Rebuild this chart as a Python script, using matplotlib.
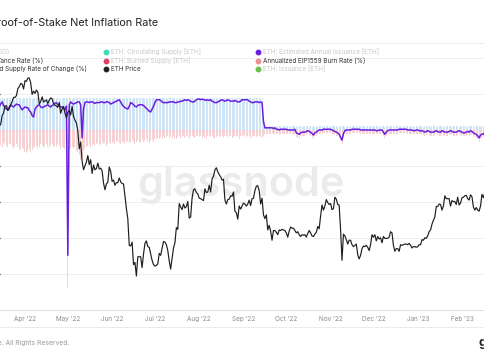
import matplotlib
matplotlib.use("Agg")
import matplotlib.pyplot as plt
import matplotlib.dates as mdates
from matplotlib.lines import Line2D
from matplotlib.ticker import NullLocator
import pandas as pd

plt.rcParams['font.family'] = ['Inter', 'DejaVu Sans']

# ETH price, daily close (USD), 2022-03-14 .. 2023-02-17
eth_price = [
    2590, 2620, 2770, 2815, 2945, 2950, 2860, 2895, 2970, 3030, 3110, 3110, 3145, 3290, 3330, 3400, 3385, 3280,
    3460, 3445, 3520, 3520, 3410, 3170, 3235, 3190, 3260, 3210, 2980, 3030, 3120, 3020, 3040, 3060, 2990, 3060,
    3100, 3080, 2990, 2960, 2940, 2920, 3010, 2810, 2890, 2935, 2815, 2730,
    2830, 2860, 2780, 2940, 2750, 2690, 2640, 2520, 2240, 2340, 2070, 1960, 2010, 2060, 2145, 2025, 2090, 1915,
    2020, 1960, 1975, 2045, 1970, 1980, 1945, 1800, 1725, 1790, 1810, 1995, 1940,
    1820, 1835, 1775, 1805, 1805, 1860, 1815, 1795, 1790, 1660, 1530, 1435, 1210, 1205, 1235, 1070, 1085, 995,
    1125, 1125, 1125, 1050, 1145, 1225, 1245, 1200, 1195, 1145, 1100, 1070,
    1060, 1065, 1075, 1150, 1135, 1185, 1240, 1235, 1215, 1170, 1095, 1040, 1110, 1190, 1230, 1355, 1340, 1580,
    1545, 1520, 1575, 1535, 1550, 1600, 1440, 1450, 1635, 1725, 1735, 1695, 1680,
    1635, 1630, 1620, 1610, 1735, 1695, 1700, 1775, 1700, 1850, 1880, 1960, 1985, 1935, 1900, 1875, 1835, 1845,
    1615, 1575, 1620, 1625, 1660, 1655, 1700, 1505, 1490, 1430, 1555, 1525, 1555,
    1585, 1575, 1555, 1575, 1615, 1560, 1630, 1635, 1715, 1765, 1770, 1715, 1575, 1635, 1470, 1435, 1470, 1335,
    1375, 1325, 1250, 1330, 1330, 1315, 1295, 1335, 1330, 1340, 1335, 1330,
    1310, 1275, 1325, 1360, 1350, 1350, 1330, 1310, 1320, 1295, 1280, 1295, 1290, 1295, 1275, 1305, 1330, 1310,
    1285, 1280, 1300, 1315, 1365, 1345, 1460, 1565, 1515, 1555, 1620, 1590, 1570,
    1580, 1520, 1530, 1645, 1625, 1570, 1565, 1335, 1100, 1300, 1285, 1255, 1220, 1250, 1250, 1215, 1200, 1210,
    1220, 1140, 1110, 1135, 1185, 1205, 1200, 1210, 1195, 1170, 1215, 1295,
    1275, 1295, 1245, 1280, 1260, 1270, 1230, 1280, 1265, 1265, 1265, 1275, 1320, 1310, 1210, 1165, 1185, 1185,
    1165, 1215, 1210, 1215, 1220, 1220, 1215, 1225, 1210, 1190, 1200, 1200, 1195,
    1200, 1215, 1215, 1255, 1250, 1270, 1265, 1285, 1320, 1335, 1385, 1420, 1450, 1550, 1550, 1575, 1570, 1515,
    1555, 1660, 1630, 1630, 1630, 1555, 1610, 1600, 1600, 1570, 1645, 1565, 1585,
    1640, 1645, 1660, 1665, 1630, 1615, 1670, 1650, 1545, 1515, 1540, 1515, 1505, 1555, 1675, 1640, 1695,
]

# Annualized supply rate of change (%), same days
supply_change = [
    3.2, 3.6, 3.9, 3.4, 3.1, 2.9, 2.8, 3.2, 3.5, 3.3,
    3.2, 3.4, 3.6, 3.5, 3.5, 3.1, 2.8, 3.0, 3.2, 3.1,
    3.1, 2.7, 2.5, 2.0, 1.8, 2.9, 3.2, 3.4, 3.5, 3.2,
    3.1, 3.2, 3.3, 3.4, 3.5, 3.3, 3.2, 3.4, 3.5, 3.7,
    3.8, 3.5, 3.3, 3.2, 3.2, 3.0, 2.8, 3.3, -17.4, 3.5,
    3.9, 3.7, 3.6, 3.7, 3.8, 3.9, 3.9, 3.5, -1.1, 2.9,
    3.8, 3.9, 3.9, 3.8, 3.9, 3.9, 3.8, 3.7, 3.8, 3.8,
    3.8, 3.9, 3.9, 3.8, 3.8, 3.9, 3.9, 3.8, 3.6, 3.7,
    3.8, 3.9, 4.0, 4.1, 4.2, 3.9, 3.5, 3.3, 3.1, 3.0,
    2.9, 3.3, 3.8, 3.7, 3.5, 3.3, 3.2, 3.4, 3.5, 3.5,
    3.5, 3.4, 3.2, 3.0, 2.8, 2.6, 2.5, 2.9, 3.3, 3.8,
    4.2, 4.2, 4.2, 4.1, 3.9, 3.8, 3.8, 3.8, 3.8, 3.9,
    3.9, 3.9, 3.9, 3.8, 3.8, 3.9, 3.9, 4.0, 4.0, 4.1,
    4.2, 4.1, 4.2, 4.1, 4.0, 3.9, 3.9, 4.0, 4.2, 4.3,
    4.3, 4.2, 4.3, 4.2, 4.2, 4.1, 4.2, 4.1, 4.2, 4.0,
    3.9, 3.8, 3.8, 3.9, 4.0, 4.1, 4.2, 4.1, 4.0, 4.1,
    4.2, 4.1, 4.0, 4.0, 4.0, 4.1, 4.0, 3.9, 3.9, 4.0,
    4.2, 4.2, 4.2, 4.2, 4.2, 4.0, 3.9, 3.8, 3.8, 3.9,
    3.9, 3.9, 3.8, 3.9, 3.8,
    1.2,
    0.3, 0.3, 0.3, 0.3,
    0.3, 0.3, 0.2, 0.3, 0.1, 0.1, 0.0, 0.1, 0.1, 0.1,
    0.1, 0.1, 0.0, 0.0, 0.0, 0.0, 0.0, 0.1, -0.4, -0.5,
    -0.6, -0.4, -0.3, -0.3, -0.3, -0.2, -0.1, -0.2, -0.3, -0.5,
    -0.7, -0.4, -0.3, -0.1, 0.0, 0.0, 0.0, 0.1, 0.1, 0.1,
    0.1, 0.1, 0.1, 0.0, -0.1, -0.2, -0.3, -0.4, -0.6, -1.0,
    -1.4, -0.5, -0.1, 0.0, 0.0, 0.0, 0.0, 0.1, 0.1, 0.1,
    0.1, 0.1, 0.1, 0.0, 0.0, 0.0, 0.0, 0.0, 0.0, 0.0,
    0.0, 0.0, 0.0, 0.0, -0.1, -0.1, 0.0, 0.0, 0.0, -0.3,
    -0.6, -0.3, -0.1, 0.0, 0.0, 0.0, 0.0, 0.0, 0.0, 0.0,
    0.1, 0.1, 0.1, 0.1, 0.1, 0.1, 0.0, 0.0, 0.0, 0.0,
    -0.1, -0.1, 0.0, 0.0, -0.1, -0.1, -0.1, -0.2, -0.3, -0.2,
    -0.1, -0.2, -0.3, -0.3, -0.3, -0.2, -0.1, -0.2, -0.3, -0.3,
    -0.1, -0.2, -0.3, -0.3, -0.3, -0.2, -0.1, -0.2, -0.3, -0.3,
    -0.3, -0.2, -0.1, -0.2, -0.3, -0.4, -0.4, -0.3, -0.2, -0.3,
    -0.1, -0.2, -0.4, -0.5, -0.6, -0.8, -1.1, -0.7, -0.6, -0.5,
    -0.7,
]

# Annualized issuance rate (%), before the Merge (to 2022-09-14) and after
issuance_pow = [
    4.4, 4.5, 4.4, 4.4, 4.3, 4.4, 4.5, 4.4, 4.4, 4.4,
    4.3, 4.4, 4.4, 4.5, 4.4, 4.4, 4.3, 4.4, 4.4, 4.5,
    4.4, 4.4, 4.4, 4.3, 4.4, 4.5, 4.4, 4.4, 4.4, 4.3,
    4.4, 4.4, 4.5, 4.4, 4.4, 4.4, 4.3, 4.4, 4.4, 4.4,
    4.5, 4.4, 4.4, 4.3, 4.4, 4.4, 4.4, 4.5, 4.4, 4.4,
    4.4, 4.3, 4.4, 4.4, 4.5, 4.4, 4.4, 4.4, 4.3, 4.4,
    4.4, 4.5, 4.4, 4.4, 4.4, 4.3, 4.4, 4.4, 4.5, 4.4,
    4.4, 4.4, 4.3, 4.4, 4.4, 4.5, 4.4, 4.4, 4.4, 4.3,
    4.4, 4.4, 4.5, 4.4, 4.4, 4.4, 4.3, 4.4, 4.4, 4.5,
    4.4, 4.4, 4.4, 4.3, 4.4, 4.4, 4.5, 4.4, 4.4, 4.4,
    4.4, 4.5, 4.4, 4.4, 4.3, 4.4, 4.4, 4.4, 4.5, 4.4,
    4.4, 4.3, 4.4, 4.4, 4.5, 4.4, 4.4, 4.4, 4.3, 4.4,
    4.5, 4.4, 4.4, 4.4, 4.3, 4.4, 4.5, 4.4, 4.4, 4.4,
    4.4, 4.3, 4.4, 4.5, 4.4, 4.4, 4.4, 4.3, 4.4, 4.4,
    4.5, 4.4, 4.4, 4.3, 4.4, 4.4, 4.5, 4.4, 4.4, 4.4,
    4.3, 4.4, 4.4, 4.5, 4.4, 4.4, 4.4, 4.3, 4.4, 4.4,
    4.4, 4.5, 4.4, 4.4, 4.3, 4.4, 4.4, 4.5, 4.4, 4.4,
    4.4, 4.3, 4.4, 4.4, 4.5, 4.4, 4.4, 4.4, 4.3, 4.4,
    4.4, 4.5, 4.4, 4.4, 4.4,
]
issuance_pos = [
    1.8,
    0.5, 0.5, 0.4, 0.5,
    0.5, 0.5, 0.5, 0.4, 0.5, 0.5, 0.5, 0.5, 0.4, 0.5,
    0.5, 0.5, 0.5, 0.5, 0.4, 0.5, 0.5, 0.5, 0.5, 0.4,
    0.5, 0.5, 0.5, 0.4, 0.5, 0.5, 0.5, 0.5, 0.5, 0.4,
    0.5, 0.5, 0.4, 0.5, 0.5, 0.5, 0.5, 0.4, 0.5, 0.5,
    0.5, 0.4, 0.5, 0.5, 0.5, 0.5, 0.5, 0.4, 0.5, 0.5,
    0.5, 0.5, 0.4, 0.5, 0.5, 0.5, 0.4, 0.5, 0.5, 0.5,
    0.5, 0.4, 0.5, 0.5, 0.5, 0.5, 0.5, 0.4, 0.5, 0.5,
    0.5, 0.5, 0.4, 0.5, 0.5, 0.5, 0.4, 0.5, 0.5, 0.5,
    0.4, 0.5, 0.5, 0.5, 0.5, 0.5, 0.4, 0.5, 0.5, 0.5,
    0.5, 0.5, 0.4, 0.5, 0.5, 0.5, 0.5, 0.4, 0.5, 0.5,
    0.5, 0.4, 0.5, 0.5, 0.5, 0.5, 0.5, 0.4, 0.5, 0.5,
    0.5, 0.5, 0.4, 0.5, 0.5, 0.5, 0.4, 0.5, 0.5, 0.5,
    0.5, 0.4, 0.5, 0.5, 0.5, 0.5, 0.5, 0.4, 0.5, 0.5,
    0.5, 0.5, 0.4, 0.5, 0.5, 0.5, 0.5, 0.5, 0.4, 0.5,
    0.5, 0.5, 0.4, 0.5, 0.5, 0.5, 0.5, 0.4, 0.5, 0.5,
    0.5,
]

# Annualized EIP1559 burn rate (%), shown as negative bars
burn_rate = [
    -1.9, -2.1, -2.3, -1.8, -2.0, -2.2, -2.4, -2.0, -1.9, -2.3,
    -2.5, -2.2, -2.0, -2.4, -2.6, -2.8, -2.5, -2.7, -3.0, -3.2,
    -2.9, -2.6, -3.1, -2.8, -2.5, -2.4, -2.2, -2.6, -2.3, -2.0,
    -2.1, -2.4, -2.2, -1.9, -2.3, -2.5, -2.1, -2.0, -2.3, -2.2,
    -2.4, -2.0, -2.2, -2.6, -2.3, -2.5, -2.7, -2.4,
    -21.9,
    -2.8, -2.5, -2.3, -2.6, -2.4, -2.9, -3.1, -3.5, -4.2, -3.8, -2.9,
    -2.6, -2.4, -2.2, -2.0, -2.3, -2.1, -1.9, -2.2, -2.0, -1.8,
    -2.1, -1.9, -1.7, -2.0, -1.8, -2.2, -1.9, -1.7, -2.0, -1.8,
    -1.6, -1.9, -1.7, -1.5, -1.8, -2.0, -1.7, -1.6, -1.9, -1.7,
    -1.5, -1.8, -1.6, -1.4, -1.7, -1.9, -1.6, -1.5, -1.8, -1.6,
    -1.4, -1.7, -1.5, -1.3, -1.6, -1.8, -1.5, -1.4, -1.6, -1.3,
    -1.2, -1.1, -1.3, -1.0, -1.2, -0.9, -1.1, -1.0, -0.8, -1.1,
    -1.0, -1.2, -0.9, -1.1, -1.3, -1.0, -0.9, -1.2, -1.0, -0.8,
    -1.1, -0.9, -1.0, -1.2, -0.9, -0.8, -1.0, -1.1, -0.9, -0.8,
    -1.0, -0.9, -1.1, -0.8, -1.0, -1.2, -0.9, -0.8, -1.0, -0.9,
    -1.1, -1.3, -1.0, -0.9, -0.8, -1.0, -0.9, -1.1, -0.8, -0.9,
    -1.0, -0.8, -0.9, -1.1, -1.0, -0.9, -0.8, -1.0, -1.2, -0.9,
    -0.8, -0.7, -0.9, -1.0, -0.8, -0.9, -1.1, -1.0, -0.8, -0.9,
    -1.0, -0.9, -0.8, -1.0, -1.1,
    -0.8,
    -0.6, -0.5, -0.6, -0.5,
    -0.5, -0.4, -0.6, -0.5, -0.6, -0.6, -0.7, -0.5, -0.5, -0.6,
    -0.5, -0.5, -0.6, -0.6, -0.6, -0.6, -0.7, -0.5, -1.0, -1.1,
    -1.2, -0.9, -0.8, -0.8, -0.8, -0.7, -0.6, -0.7, -0.8, -1.0,
    -1.2, -0.9, -0.8, -0.6, -0.5, -0.5, -0.5, -0.4, -0.4, -0.4,
    -0.4, -0.4, -0.4, -0.5, -0.6, -0.7, -0.8, -0.9, -1.1, -1.5,
    -1.9, -1.0, -0.6, -0.5, -0.5, -0.5, -0.5, -0.4, -0.4, -0.4,
    -0.4, -0.4, -0.4, -0.5, -0.5, -0.5, -0.5, -0.5, -0.5, -0.5,
    -0.5, -0.5, -0.5, -0.5, -0.6, -0.6, -0.5, -0.5, -0.5, -0.8,
    -1.1, -0.8, -0.6, -0.5, -0.5, -0.5, -0.5, -0.5, -0.5, -0.5,
    -0.4, -0.4, -0.4, -0.4, -0.4, -0.4, -0.5, -0.5, -0.5, -0.5,
    -0.6, -0.6, -0.5, -0.5, -0.6, -0.6, -0.6, -0.7, -0.8, -0.7,
    -0.6, -0.7, -0.8, -0.8, -0.8, -0.7, -0.6, -0.7, -0.8, -0.8,
    -0.6, -0.7, -0.8, -0.8, -0.8, -0.7, -0.6, -0.7, -0.8, -0.8,
    -0.8, -0.7, -0.6, -0.7, -0.8, -0.9, -0.9, -0.8, -0.7, -0.8,
    -0.6, -0.7, -0.9, -1.0, -1.1, -1.3, -1.6, -1.2, -1.1, -1.0,
    -1.2,
]

legend_labels = [
    ['ETH: Price (USD)', 'Annualized Issuance Rate (%)', 'Annualized Supply Rate of Change (%)'],
    ['ETH: Circulating Supply [ETH]', 'ETH: Burned Supply [ETH]', 'ETH Price'],
    ['ETH: Estimated Annual Issuance [ETH]', 'Annualized EIP1559 Burn Rate (%)', 'ETH: Issuance [ETH]'],
]
legend_colors = [
    [None, None, None],
    ['#3ddbb8', '#e0405e', '#222222'],
    ['#6a1fe0', '#ec8f8f', '#6cc04a'],
]
legend_active = [
    [False, True, True],
    [False, False, True],
    [False, True, False],
]

days = pd.date_range('2022-03-14', periods=len(eth_price), freq='D')
issuance = issuance_pow + issuance_pos

W, H = 485, 360
fig = plt.figure(figsize=(W / 100, H / 100), dpi=100)
ax = fig.add_axes([0, 1 - 310 / H, 1, 267 / H])

ax.bar(days, issuance, width=0.7, color='#cfe4f4', linewidth=0, zorder=1)
ax.bar(days, burn_rate, width=0.7, color='#f6d2d5', linewidth=0, zorder=1)
ax.plot(days, supply_change, color='#6a1fe0', lw=1.1, zorder=3)

ax.set_ylim(-25, 12.08)
ax.set_xlim(pd.Timestamp('2022-03-14 12:00'), pd.Timestamp('2023-02-17 03:00'))
ax.set_yticks([-20, -15, -10, -5, 0, 5, 10])
ax.yaxis.grid(True, color='#ececec', lw=0.6)
ax.set_axisbelow(True)
ax.tick_params(axis='y', left=False, labelleft=False)
ax.xaxis.set_major_locator(mdates.MonthLocator())
ax.xaxis.set_major_formatter(mdates.DateFormatter("%b '%y"))
ax.tick_params(axis='x', length=0, pad=4, labelsize=4.6, labelcolor='#8a8a8a')
for s in ['top', 'left', 'right']:
    ax.spines[s].set_visible(False)
ax.spines['bottom'].set_color('#dddddd')
ax.spines['bottom'].set_linewidth(0.7)

ax.text(0.497, 0.47, 'glassnode', transform=ax.transAxes, ha='center', va='center',
        fontsize=30, fontweight='semibold', color='#ebebeb', zorder=0)

ax2 = ax.twinx()
ax2.plot(days, eth_price, color='#1e1e1e', lw=0.85)
ax2.set_yscale('log')
ax2.set_ylim(801, 4400)
ax2.yaxis.set_major_locator(NullLocator())
ax2.yaxis.set_minor_locator(NullLocator())
ax2.tick_params(which='both', right=False, labelright=False)
for s in ax2.spines.values():
    s.set_visible(False)

# title, frame lines, legend, footer
fig.text(158 / W, 1 - 23 / H, 'Proof-of-Stake Net Inflation Rate', ha='right', va='center',
         fontsize=7.8, color='#222222')
for yl in [43, 327]:
    fig.add_artist(Line2D([0, 1], [1 - yl / H, 1 - yl / H], transform=fig.transFigure,
                          color='#e8e8e8', lw=0.6))

rows_y = [52, 60.5, 69]
col_x = [None, 106, 258]
col1_end = [9, 43, 87]
for c in range(3):
    for r in range(3):
        y = 1 - rows_y[r] / H
        tc = '#333333' if legend_active[c][r] else '#c8c8c8'
        if c == 0:
            fig.text(col1_end[r] / W, y, legend_labels[c][r], ha='right', va='center',
                     fontsize=4.6, color=tc)
        else:
            fig.add_artist(Line2D([col_x[c] / W], [y], transform=fig.transFigure, marker='o',
                                  ms=3.2, color=legend_colors[c][r], lw=0))
            fig.text((col_x[c] + 5) / W, y, legend_labels[c][r], ha='left', va='center',
                     fontsize=4.6, color=tc)

fig.text(69 / W, 1 - 343 / H, '© 2023 Glassnode. All Rights Reserved.', ha='right', va='center',
         fontsize=4.8, color='#9a9a9a')
fig.text(479 / W, 1 - 343 / H, 'glassnode', ha='left', va='center', fontsize=9,
         fontweight='bold', color='#222222')

fig.savefig('out.png', dpi=100)
